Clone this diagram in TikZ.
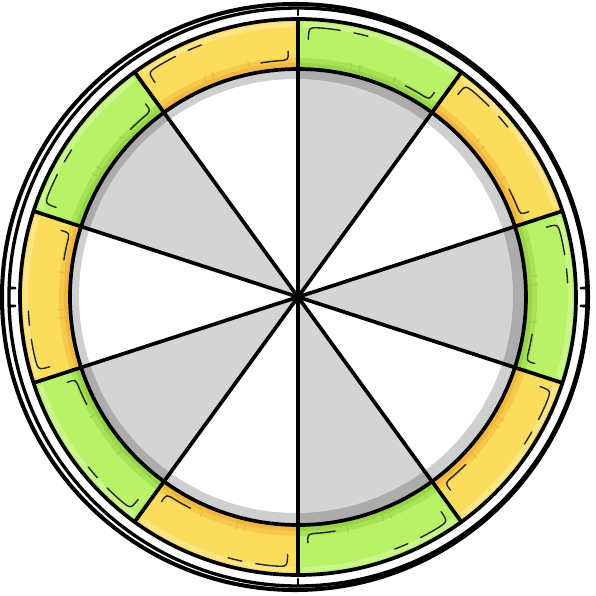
\documentclass[tikz,border=0pt]{standalone}
\usepackage{tikz}

\definecolor{segyellow}{RGB}{251,221,94}
\definecolor{segorange}{RGB}{241,183,62}
\definecolor{seggreen}{RGB}{184,242,102}
\definecolor{segdkgreen}{RGB}{152,212,72}
\definecolor{sectorgrey}{RGB}{212,212,212}

\tikzset{
  outline/.style={line width=2.1pt},
  sketch/.style={line width=0.8pt, black!85},
  grass/.style={line width=0.7pt},
}

% one ring piece: start angle, fill, shade
\newcommand{\ringpiece}[3]{%
  \fill[#2] (#1:228) arc[start angle=#1, end angle=#1-36, radius=228]
    -- (#1-36:278) arc[start angle=#1-36, end angle=#1, radius=278] -- cycle;
  \fill[#3, opacity=0.5] (#1:228) arc[start angle=#1, end angle=#1-36, radius=228]
    -- (#1-36:239) arc[start angle=#1-36, end angle=#1, radius=239] -- cycle;
  \fill[#3] (#1:228) arc[start angle=#1, end angle=#1-36, radius=228]
    -- (#1-36:234) arc[start angle=#1-36, end angle=#1, radius=234] -- cycle;
  \fill[white, opacity=0.25] (#1-1:270) arc[start angle=#1-1, end angle=#1-35, radius=270]
    -- (#1-35:275) arc[start angle=#1-35, end angle=#1-1, radius=275] -- cycle;
  \foreach \t in {-13,-15,-24}
    \draw[grass, #3] (#1+\t:234) -- (#1+\t:240);
  \draw[sketch] (#1-2.3:258) .. controls (#1-2.3:270) .. (#1-5:270)
    arc[start angle=#1-5, end angle=#1-9, radius=270];
  \draw[sketch] (#1-12:270) arc[start angle=#1-12, end angle=#1-15, radius=270];
  \draw[sketch] (#1-27:237) arc[start angle=#1-27, end angle=#1-31, radius=237]
    .. controls (#1-33.7:237) .. (#1-33.7:246);
}

\begin{document}
\begin{tikzpicture}[x=0.02cm, y=0.02cm, line join=round, line cap=round]
  \useasboundingbox (-298,-299) rectangle (298,297);

  % sectors of the disc
  \fill[white] (0,0) circle[radius=228];
  \foreach \a in {90,18,-54,-126,-198}
    \fill[sectorgrey] (0,0) -- (\a:228) arc[start angle=\a, end angle=\a-36, radius=228] -- cycle;
  \fill[black, opacity=0.19, even odd rule] (0,0) circle[radius=228] (-2,1) circle[radius=217];
  \foreach \a in {90,54,18,-18,-54}
    \draw[outline] (\a:228) -- (\a+180:228);

  % coloured ring
  \foreach \a in {90,18,-54,-126,-198}
    \ringpiece{\a}{seggreen}{segdkgreen};
  \foreach \a in {54,-18,-90,-162,-234}
    \ringpiece{\a}{segyellow}{segorange};
  \foreach \a in {90,54,18,-18,-54,-90,-126,-162,-198,-234}
    \draw[outline] (\a:228) -- (\a:278);
  \draw[outline] (0,0) circle[radius=228];
  \draw[outline] (0,0) circle[radius=278];

  % outer rim
  \draw[line width=1.9pt] (0,0) circle[radius=289];
  \draw[line width=2.3pt] (-3,0) circle[radius=293];
  \draw[line width=1.5pt] (90:289) -- (90:282);
  \draw[line width=1.5pt] (-90:289) -- (-90:282);
  \foreach \t in {-1.8,1.8} {
    \draw[line width=1.5pt] (180+\t:289) -- (180+\t:283);
    \draw[line width=1.5pt] (\t:289) -- (\t:283);
  }
\end{tikzpicture}
\end{document}
